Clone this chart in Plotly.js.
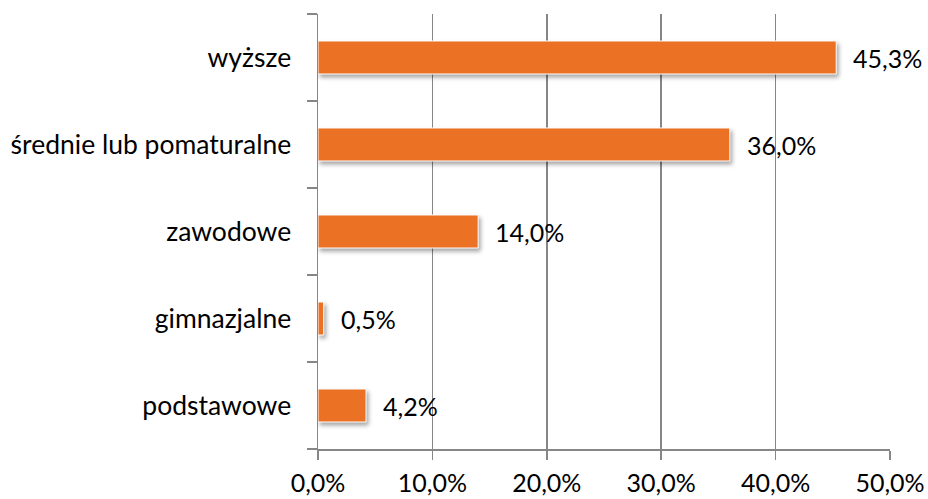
<!DOCTYPE html>
<html>
<head>
<meta charset="utf-8">
<script src="https://cdn.plot.ly/plotly-3.0.1.min.js"></script>
<style>
html,body{margin:0;padding:0;background:#fff;}
#chart{width:928px;height:499px;}
.trace.bars .point path{filter:drop-shadow(2px 3px 2px rgba(0,0,0,0.35));}
</style>
</head>
<body>
<div id="chart"></div>
<script>
const categories = ["podstawowe", "gimnazjalne", "zawodowe", "średnie lub pomaturalne", "wyższe"];
const values = [4.2, 0.5, 14.0, 36.0, 45.3];
const labels = ["4,2%", "0,5%", "14,0%", "36,0%", "45,3%"];
const tickValues = [0, 10, 20, 30, 40, 50];
const tickLabels = ["0,0%", "10,0%", "20,0%", "30,0%", "40,0%", "50,0%"];

const fontFam = "Lato, 'Open Sans', sans-serif";
const fs = 25;

const trace = {
  type: "bar",
  orientation: "h",
  y: categories,
  x: values,
  marker: {color: "#EB7125", line: {color: "#ffffff", width: 1}},
  hoverinfo: "none"
};

const annotations = categories.map((c, i) => ({
  x: values[i], y: c, xref: "x", yref: "y",
  text: labels[i], showarrow: false, xanchor: "left", xshift: 15,
  font: {family: fontFam, size: fs, color: "#000"}
}));

const layout = {
  width: 928, height: 499,
  margin: {l: 318, r: 38, t: 14, b: 50},
  paper_bgcolor: "#fff", plot_bgcolor: "#fff",
  showlegend: false,
  bargap: 0.62,
  font: {family: fontFam, size: fs, color: "#000"},
  xaxis: {
    range: [0, 50], tickvals: tickValues, ticktext: tickLabels,
    showgrid: true, gridcolor: "#868686", gridwidth: 1.5,
    showline: true, linecolor: "#868686", linewidth: 1.5,
    ticks: "outside", ticklen: 9, tickcolor: "#868686", tickwidth: 1.5,
    ticklabelstandoff: 2,
    zeroline: false, fixedrange: true,
    tickfont: {family: fontFam, size: fs, color: "#000"}
  },
  yaxis: {
    type: "category", categoryorder: "array", categoryarray: categories,
    showline: true, linecolor: "#868686", linewidth: 1.5,
    ticks: "outside", tickson: "boundaries", ticklen: 10, tickcolor: "#868686", tickwidth: 1.5,
    ticklabelstandoff: 20,
    showgrid: false, zeroline: false, fixedrange: true,
    tickfont: {family: fontFam, size: 26.5, color: "#000"}
  },
  annotations: annotations
};

Plotly.newPlot("chart", [trace], layout, {staticPlot: true, displayModeBar: false});
</script>
</body>
</html>
